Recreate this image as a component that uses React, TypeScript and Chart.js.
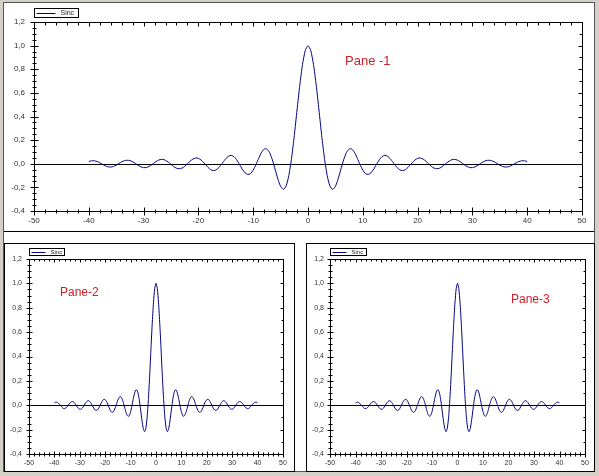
import React, { useEffect, useRef } from "react";
import { Chart, registerables } from "chart.js";

Chart.register(...registerables);

const seriesLabel = "Sinc";
const paneTitles = ["Pane -1", "Pane-2", "Pane-3"];

const xValues = [
  -40, -39.5, -39, -38.5, -38, -37.5, -37, -36.5, -36, -35.5,
  -35, -34.5, -34, -33.5, -33, -32.5, -32, -31.5, -31, -30.5,
  -30, -29.5, -29, -28.5, -28, -27.5, -27, -26.5, -26, -25.5,
  -25, -24.5, -24, -23.5, -23, -22.5, -22, -21.5, -21, -20.5,
  -20, -19.5, -19, -18.5, -18, -17.5, -17, -16.5, -16, -15.5,
  -15, -14.5, -14, -13.5, -13, -12.5, -12, -11.5, -11, -10.5,
  -10, -9.5, -9, -8.5, -8, -7.5, -7, -6.5, -6, -5.5,
  -5, -4.5, -4, -3.5, -3, -2.5, -2, -1.5, -1, -0.5,
  0,
  0.5, 1, 1.5, 2, 2.5, 3, 3.5, 4, 4.5, 5,
  5.5, 6, 6.5, 7, 7.5, 8, 8.5, 9, 9.5, 10,
  10.5, 11, 11.5, 12, 12.5, 13, 13.5, 14, 14.5, 15,
  15.5, 16, 16.5, 17, 17.5, 18, 18.5, 19, 19.5, 20,
  20.5, 21, 21.5, 22, 22.5, 23, 23.5, 24, 24.5, 25,
  25.5, 26, 26.5, 27, 27.5, 28, 28.5, 29, 29.5, 30,
  30.5, 31, 31.5, 32, 32.5, 33, 33.5, 34, 34.5, 35,
  35.5, 36, 36.5, 37, 37.5, 38, 38.5, 39, 39.5, 40,
];

const sincValues = [
  0.019, 0.025, 0.025, 0.019, 0.008, -0.005, -0.017, -0.026, -0.028, -0.023,
  -0.012, 0.002, 0.016, 0.026, 0.030, 0.027, 0.017, 0.003, -0.013, -0.026,
  -0.033, -0.032, -0.023, -0.008, 0.010, 0.025, 0.035, 0.037, 0.029, 0.014,
  -0.005, -0.024, -0.038, -0.042, -0.037, -0.022, 0.000, 0.022, 0.040, 0.049,
  0.046, 0.031, 0.008, -0.018, -0.042, -0.056, -0.057, -0.043, -0.018, 0.013,
  0.043, 0.064, 0.071, 0.060, 0.032, -0.005, -0.045, -0.076, -0.091, -0.084,
  -0.054, -0.008, 0.046, 0.094, 0.124, 0.125, 0.094, 0.033, -0.047, -0.128,
  -0.192, -0.217, -0.189, -0.100, 0.047, 0.239, 0.455, 0.665, 0.841, 0.959,
  1.0,
  0.959, 0.841, 0.665, 0.455, 0.239, 0.047, -0.100, -0.189, -0.217, -0.192,
  -0.128, -0.047, 0.033, 0.094, 0.125, 0.124, 0.094, 0.046, -0.008, -0.054,
  -0.084, -0.091, -0.076, -0.045, -0.005, 0.032, 0.060, 0.071, 0.064, 0.043,
  0.013, -0.018, -0.043, -0.057, -0.056, -0.042, -0.018, 0.008, 0.031, 0.046,
  0.049, 0.040, 0.022, 0.000, -0.022, -0.037, -0.042, -0.038, -0.024, -0.005,
  0.014, 0.029, 0.037, 0.035, 0.025, 0.010, -0.008, -0.023, -0.032, -0.033,
  -0.026, -0.013, 0.003, 0.017, 0.027, 0.030, 0.026, 0.016, 0.002, -0.012,
  -0.023, -0.028, -0.026, -0.017, -0.005, 0.008, 0.019, 0.025, 0.025, 0.019,
];

const xTicks = [-50, -40, -30, -20, -10, 0, 10, 20, 30, 40, 50];
const xTickLabels = ["-50", "-40", "-30", "-20", "-10", "0", "10", "20", "30", "40", "50"];
const yTicks = [-0.4, -0.2, 0, 0.2, 0.4, 0.6, 0.8, 1.0, 1.2];
const yTickLabels = ["-0,4", "-0,2", "0,0", "0,2", "0,4", "0,6", "0,8", "1,0", "1,2"];

const X_MIN = -50, X_MAX = 50, Y_MIN = -0.4, Y_MAX = 1.2;
const X_MINOR = 2; // minor tick step
const Y_MINOR = 0.05;

type PaneCfg = {
  left: number; top: number; w: number; h: number;
  padTop: number; padRight: number; yWidth: number; xHeight: number;
  fontSize: number; xPad: number; yPad: number;
  maj: number; min: number; inMaj: number; inMin: number;
  legW: number; legH: number; legGap: number; legLine: number; legFont: number;
  title: string; titleLeft: number; titleTop: number; titleSize: number;
};

const panes: PaneCfg[] = [
  { left: 4, top: 3, w: 590, h: 228, padTop: 19, padRight: 12, yWidth: 30, xHeight: 20,
    fontSize: 8, xPad: 5, yPad: 9, maj: 4, min: 2, inMaj: 4, inMin: 3,
    legW: 44, legH: 9, legGap: 5, legLine: 19, legFont: 7,
    title: paneTitles[0], titleLeft: 345, titleTop: 54, titleSize: 13 },
  { left: 5, top: 244, w: 289, h: 227, padTop: 15, padRight: 11, yWidth: 24, xHeight: 17,
    fontSize: 7, xPad: 5, yPad: 7, maj: 3, min: 2, inMaj: 3, inMin: 2,
    legW: 35, legH: 7, legGap: 4, legLine: 14, legFont: 6,
    title: paneTitles[1], titleLeft: 60, titleTop: 286, titleSize: 12 },
  { left: 307, top: 244, w: 287, h: 227, padTop: 15, padRight: 9, yWidth: 23, xHeight: 17,
    fontSize: 7, xPad: 5, yPad: 6, maj: 3, min: 2, inMaj: 3, inMin: 2,
    legW: 36, legH: 7, legGap: 4, legLine: 14, legFont: 6,
    title: paneTitles[2], titleLeft: 511, titleTop: 293, titleSize: 12 },
];

const lineColor = "#000080";
const tickColor = "#333333";
const fontFamily = "'Liberation Sans', Arial, sans-serif";

function makeDecor(cfg: PaneCfg) {
  return {
    id: "decor",
    beforeDatasetsDraw(chart: any) {
      const { ctx, chartArea: a, scales } = chart;
      const y0 = Math.round(scales.y.getPixelForValue(0)) + 0.5;
      ctx.save();
      ctx.strokeStyle = "#000";
      ctx.lineWidth = 1;
      ctx.beginPath();
      ctx.moveTo(Math.round(a.left), y0);
      ctx.lineTo(Math.round(a.right), y0);
      ctx.stroke();
      ctx.restore();
    },
    afterDraw(chart: any) {
      const { ctx, chartArea: a, scales } = chart;
      const xs = scales.x, ys = scales.y;
      const L = Math.round(a.left) + 0.5, R = Math.round(a.right) + 0.5;
      const T = Math.round(a.top) + 0.5, B = Math.round(a.bottom) + 0.5;
      ctx.save();
      ctx.strokeStyle = "#000";
      ctx.lineWidth = 1;
      ctx.strokeRect(L, T, R - L, B - T);
      ctx.beginPath();
      const nx = Math.round((X_MAX - X_MIN) / X_MINOR);
      for (let i = 0; i <= nx; i++) {
        const v = X_MIN + i * X_MINOR;
        const px = Math.round(xs.getPixelForValue(v)) + 0.5;
        const major = i % 5 === 0;
        const l = major ? cfg.maj : cfg.min;
        ctx.moveTo(px, B - l); ctx.lineTo(px, B + l);
        const li = major ? cfg.inMaj : cfg.inMin;
        ctx.moveTo(px, T); ctx.lineTo(px, T + li);
      }
      const ny = Math.round((Y_MAX - Y_MIN) / Y_MINOR);
      for (let i = 0; i <= ny; i++) {
        const v = Y_MIN + i * Y_MINOR;
        const py = Math.round(ys.getPixelForValue(v)) + 0.5;
        const major = i % 4 === 0;
        const l = major ? cfg.maj : cfg.min;
        ctx.moveTo(L - l, py); ctx.lineTo(L + l, py);
        if (i % 2 === 0) {
          const li = major ? cfg.inMaj : cfg.inMin;
          ctx.moveTo(R - li, py); ctx.lineTo(R, py);
        }
      }
      ctx.stroke();

      // legend
      const ds = chart.data.datasets[0];
      const lx = L, ly = T - cfg.legGap - cfg.legH;
      ctx.fillStyle = "#fff";
      ctx.fillRect(lx, ly, cfg.legW, cfg.legH);
      ctx.strokeStyle = "#000";
      ctx.strokeRect(lx, ly, cfg.legW, cfg.legH);
      const my = Math.round(ly + cfg.legH / 2) + 0.5;
      ctx.strokeStyle = ds.borderColor;
      ctx.beginPath();
      ctx.moveTo(lx + 2, my);
      ctx.lineTo(lx + 2 + cfg.legLine, my);
      ctx.stroke();
      ctx.fillStyle = "#222";
      ctx.font = `${cfg.legFont}px ${fontFamily}`;
      ctx.textBaseline = "middle";
      ctx.textAlign = "left";
      ctx.fillText(ds.label, lx + cfg.legLine + 7, my);
      ctx.restore();
    },
  };
}

function SincPane({ cfg }: { cfg: PaneCfg }) {
  const ref = useRef<HTMLCanvasElement | null>(null);
  useEffect(() => {
    const canvas = ref.current;
    if (!canvas) return;
    const points = xValues.map((x, i) => ({ x, y: sincValues[i] }));
    const font = { size: cfg.fontSize, family: fontFamily };
    const chart = new Chart(canvas, {
      type: "line",
      data: {
        datasets: [
          {
            label: seriesLabel,
            data: points,
            borderColor: lineColor,
            borderWidth: 1,
            pointRadius: 0,
            tension: 0.2,
            fill: false,
          },
        ],
      },
      options: {
        animation: false,
        responsive: false,
        devicePixelRatio: 1,
        layout: { padding: { top: cfg.padTop, right: cfg.padRight, left: 0, bottom: 0 } },
        plugins: { legend: { display: false }, tooltip: { enabled: false } },
        scales: {
          x: {
            type: "linear",
            min: X_MIN,
            max: X_MAX,
            afterBuildTicks: (s: any) => { s.ticks = xTicks.map((v) => ({ value: v })); },
            ticks: {
              autoSkip: false, maxRotation: 0, minRotation: 0, padding: cfg.xPad,
              font, color: tickColor,
              callback: (_v: any, i: number) => xTickLabels[i],
            },
            grid: { display: false, drawTicks: false },
            border: { display: false },
            afterFit: (s: any) => { s.height = cfg.xHeight; s.paddingLeft = 0; s.paddingRight = 0; },
          },
          y: {
            type: "linear",
            min: Y_MIN,
            max: Y_MAX,
            afterBuildTicks: (s: any) => { s.ticks = yTicks.map((v) => ({ value: v })); },
            ticks: {
              autoSkip: false, padding: cfg.yPad, font, color: tickColor,
              callback: (_v: any, i: number) => yTickLabels[i],
            },
            grid: { display: false, drawTicks: false },
            border: { display: false },
            afterFit: (s: any) => { s.width = cfg.yWidth; s.paddingTop = 0; s.paddingBottom = 0; },
          },
        },
      } as any,
      plugins: [makeDecor(cfg)],
    });
    return () => chart.destroy();
  }, [cfg]);
  return (
    <canvas
      ref={ref}
      width={cfg.w}
      height={cfg.h}
      style={{ position: "absolute", left: cfg.left, top: cfg.top, width: cfg.w, height: cfg.h }}
    />
  );
}

export default function App() {
  const line = (s: React.CSSProperties) => (
    <div style={{ position: "absolute", background: "#000", ...s }} />
  );
  return (
    <div style={{ position: "fixed", left: 0, top: 0, width: 599, height: 476, background: "#d4d0c8", overflow: "hidden" }}>
      <div style={{ position: "absolute", left: 3, top: 2, width: 592, height: 470, background: "#fff", border: "1px solid #555", boxSizing: "border-box" }} />
      {line({ left: 4, top: 231, width: 590, height: 1 })}
      <div style={{ position: "absolute", left: 4, top: 243, width: 291, height: 229, border: "1px solid #000", boxSizing: "border-box" }} />
      <div style={{ position: "absolute", left: 306, top: 243, width: 289, height: 229, border: "1px solid #000", boxSizing: "border-box" }} />
      {panes.map((p, i) => (
        <SincPane key={i} cfg={p} />
      ))}
      {panes.map((p, i) => (
        <div
          key={"t" + i}
          style={{
            position: "absolute", left: p.titleLeft, top: p.titleTop,
            fontFamily, fontSize: p.titleSize, lineHeight: 1, color: "#d0202a", whiteSpace: "nowrap",
          }}
        >
          {p.title}
        </div>
      ))}
    </div>
  );
}
